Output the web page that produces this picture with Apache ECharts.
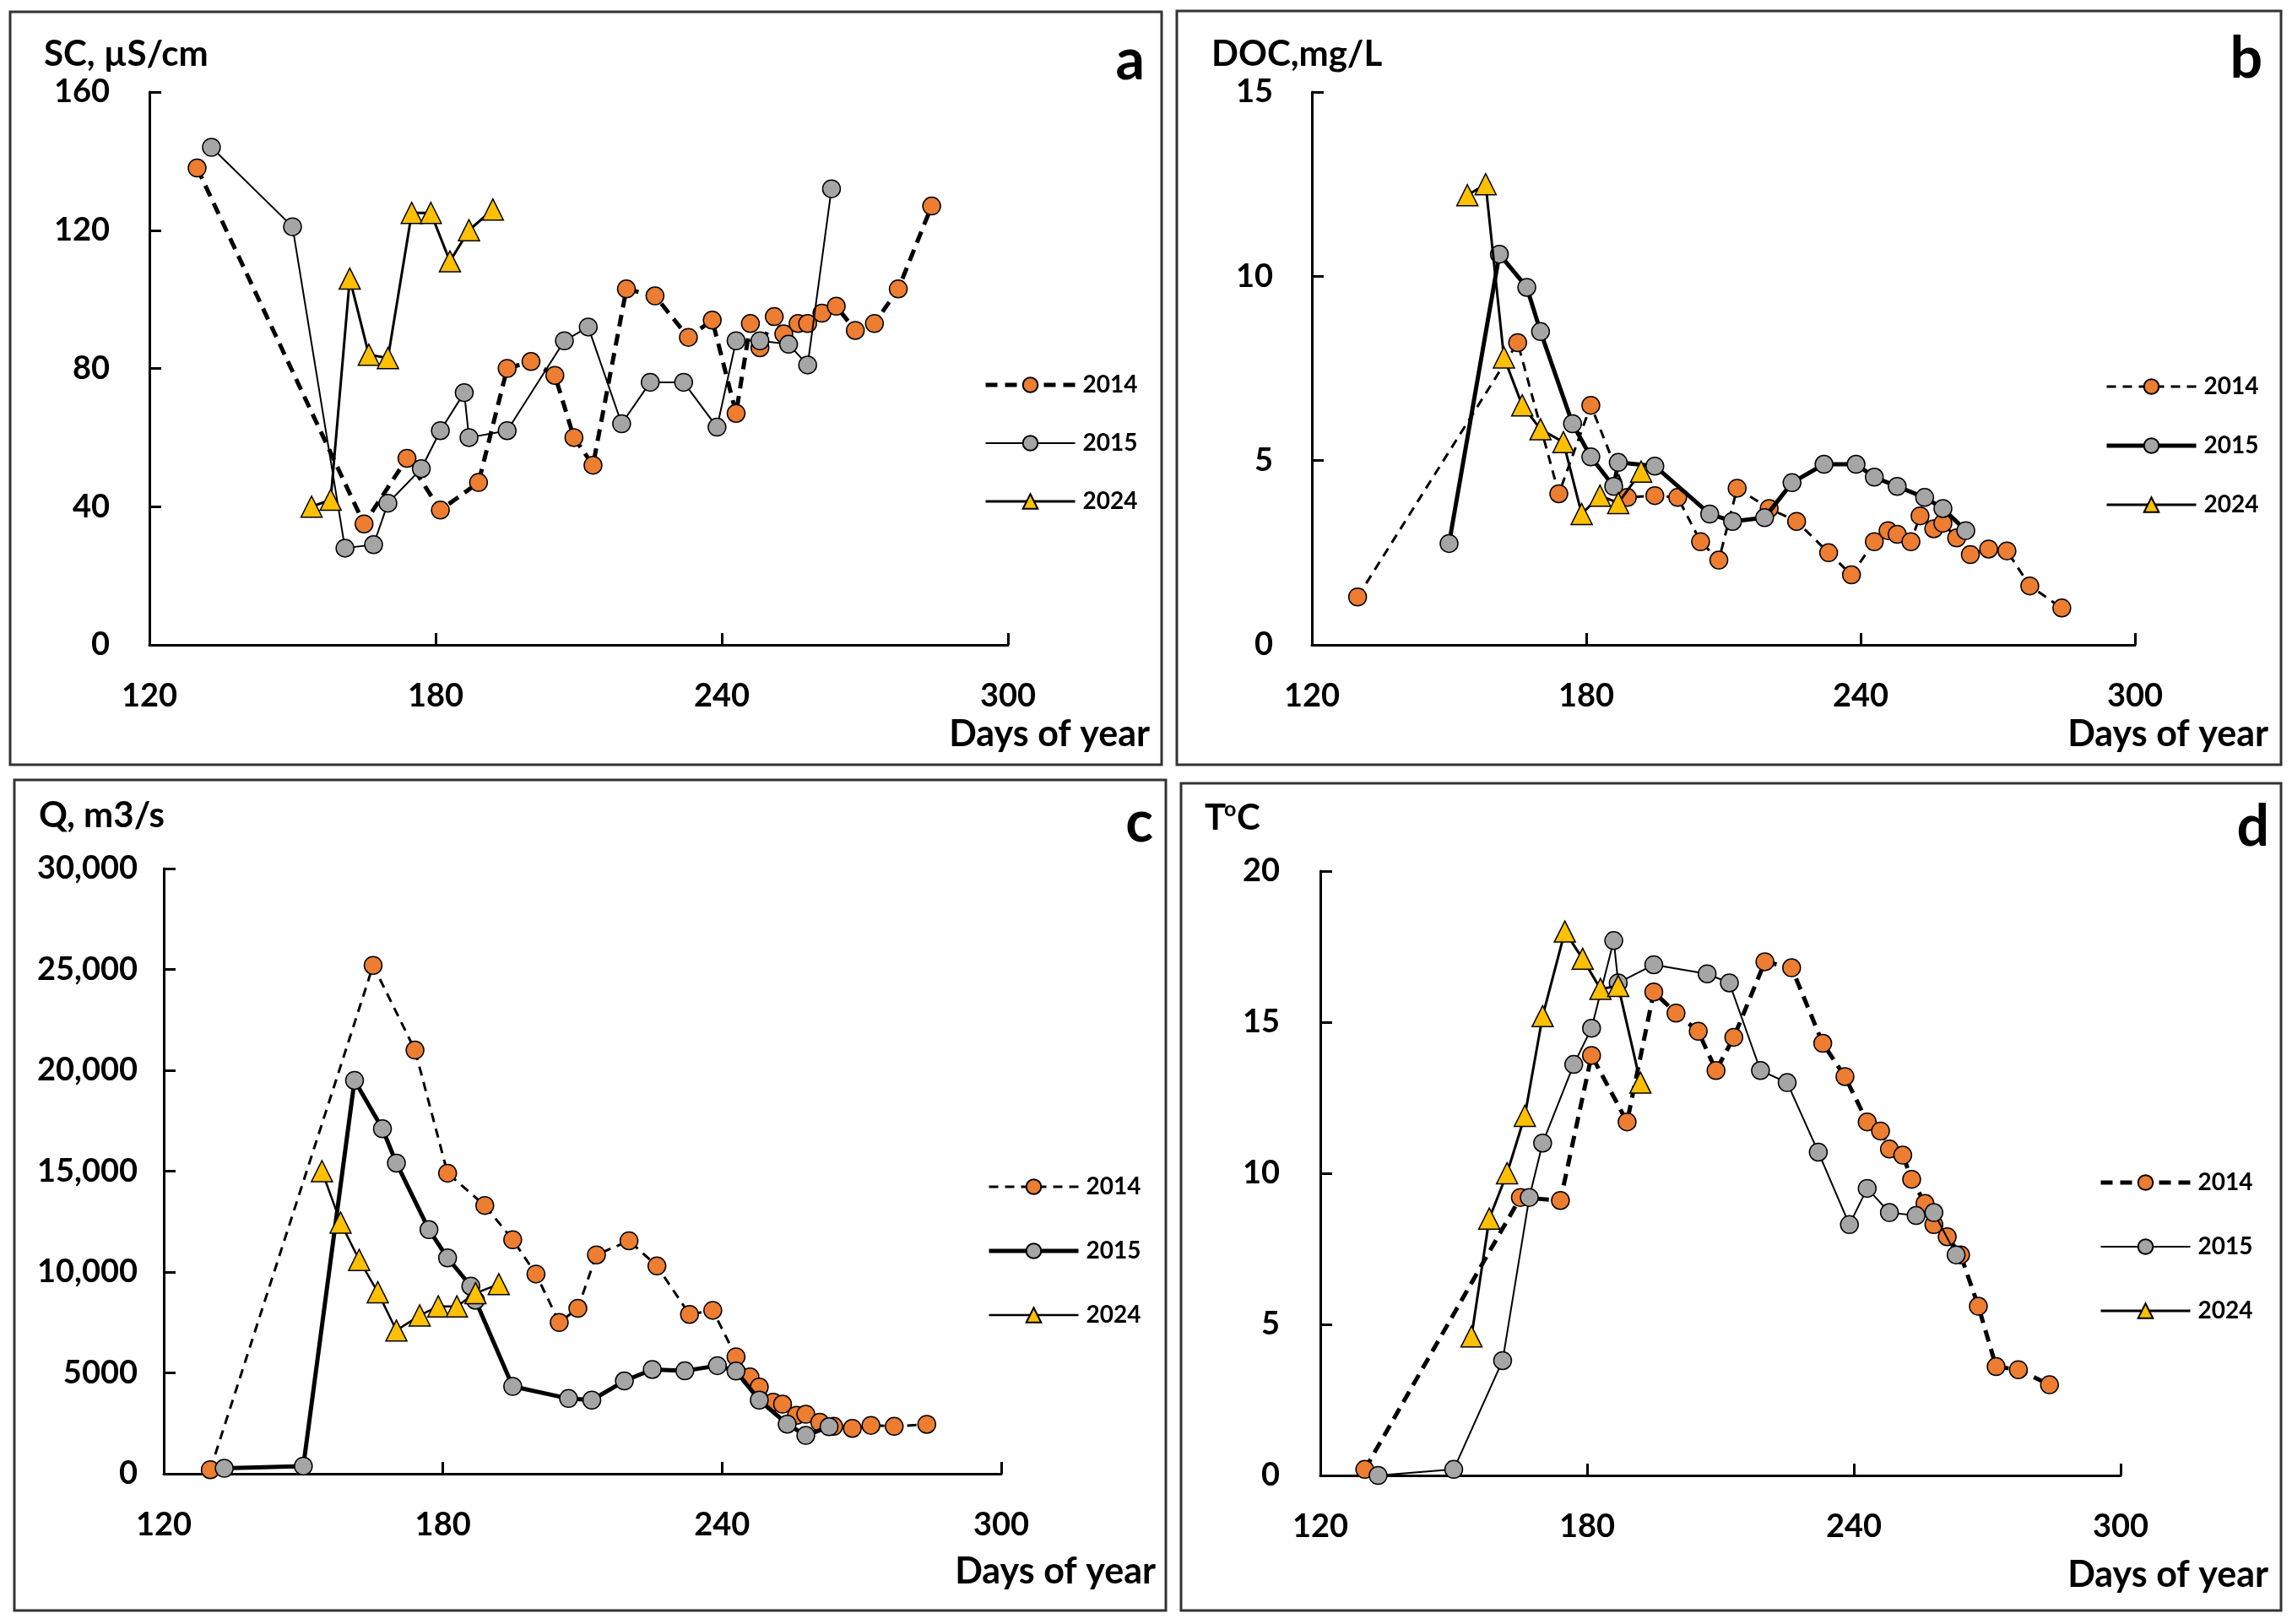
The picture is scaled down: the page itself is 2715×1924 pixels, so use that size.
<!doctype html>
<html>
<head>
<meta charset="utf-8">
<title>SC, DOC, Q, T vs days of year</title>
<script src="https://cdn.jsdelivr.net/npm/echarts@6/dist/echarts.min.js"></script>
<style>
  html, body { margin: 0; padding: 0; background: #fff; }
  #chart { width: 2715px; height: 1924px; }
</style>
</head>
<body>
<div id="chart"></div>
<script>
// sampling days (day of year)
var days14 = [130, 165, 174, 181, 189, 195, 200, 205, 209, 213, 220, 226, 233, 238, 243, 246, 248, 251, 253, 256, 258, 261, 264, 268, 272, 277, 284];
var days15 = [133, 150, 161, 167, 170, 177, 181, 186, 187, 195, 207, 212, 219, 225, 232, 239, 243, 248, 254, 258, 263];
var days24 = [154, 158, 162, 166, 170, 175, 179, 183, 187, 192];

// a - specific conductance, uS/cm
var sc14 = [138, 35, 54, 39, 47, 80, 82, 78, 60, 52, 103, 101, 89, 94, 67, 93, 86, 95, 90, 93, 93, 96, 98, 91, 93, 103, 127];
var sc15 = [144, 121, 28, 29, 41, 51, 62, 73, 60, 62, 88, 92, 64, 76, 76, 63, 88, 88, 87, 81, 132];
var sc24 = [40, 42, 106, 84, 83, 125, 125, 111, 120, 126];

// b - DOC, mg/L (no 2015 sample on the first day)
var doc14 = [1.3, 8.2, 4.1, 6.5, 4.0, 4.05, 4.0, 2.8, 2.3, 4.25, 3.7, 3.35, 2.5, 1.9, 2.8, 3.1, 3.0, 2.8, 3.5, 3.15, 3.3, 2.9, 2.45, 2.6, 2.55, 1.6, 1.0];
var doc15 = [null, 2.75, 10.6, 9.7, 8.5, 6.0, 5.1, 4.3, 4.95, 4.85, 3.55, 3.35, 3.45, 4.4, 4.9, 4.9, 4.55, 4.3, 4.0, 3.7, 3.1];
var doc24 = [12.2, 12.5, 7.8, 6.5, 5.85, 5.5, 3.55, 4.05, 3.85, 4.7];

// c - discharge, m3/s
var q14 = [200, 25200, 21000, 14900, 13300, 11600, 9900, 7500, 8200, 10850, 11550, 10300, 7900, 8100, 5800, 4800, 4300, 3550, 3450, 2900, 2950, 2550, 2350, 2250, 2400, 2350, 2450];
var q15 = [270, 380, 19500, 17100, 15400, 12100, 10700, 9300, 8600, 4330, 3730, 3650, 4600, 5170, 5100, 5360, 5090, 3650, 2460, 1900, 2330];
var q24 = [15000, 12450, 10600, 9000, 7100, 7850, 8300, 8300, 8950, 9400];

// d - water temperature, C
var t14 = [0.2, 9.2, 9.1, 13.9, 11.7, 16.0, 15.3, 14.7, 13.4, 14.5, 17.0, 16.8, 14.3, 13.2, 11.7, 11.4, 10.8, 10.6, 9.8, 9.0, 8.3, 7.9, 7.3, 5.6, 3.6, 3.5, 3.0];
var t15 = [0.0, 0.2, 3.8, 9.2, 11.0, 13.6, 14.8, 17.7, 16.3, 16.9, 16.6, 16.3, 13.4, 13.0, 10.7, 8.3, 9.5, 8.7, 8.6, 8.7, 7.3];
var t24 = [4.6, 8.5, 10.0, 11.9, 15.2, 18.0, 17.1, 16.1, 16.2, 13.0];

var years = ['2014', '2015', '2024'];

var FONT = 'Lato, "Liberation Sans", sans-serif';
var ORANGE = '#ED7D31', GRAY = '#A5A5A5', GOLD = '#FFC000';

// panel layout (pixels)
var panels = [
    { id: 'a', grid: { left: 177, top: 109, width: 1017, height: 655 }, yMax: 160, yInt: 40, yMargin: 47,
      box: [12, 14, 1364, 892], legend: { left: 1160, top: 437, gap: 41 },
      widths: [5, 2, 3], dash: [14, 9] },
    { id: 'b', grid: { left: 1554, top: 109, width: 975, height: 655 }, yMax: 15, yInt: 5, yMargin: 46,
      box: [1394, 13, 1308, 893], legend: { left: 2488, top: 439, gap: 42 },
      widths: [3, 5, 3], dash: [11, 8] },
    { id: 'c', grid: { left: 194, top: 1029, width: 992, height: 717 }, yMax: 30000, yInt: 5000, yMargin: 31,
      box: [17, 924, 1364, 984], legend: { left: 1164, top: 1387, gap: 48 },
      widths: [3, 5, 2.5], dash: [11, 8] },
    { id: 'd', grid: { left: 1564, top: 1032, width: 948, height: 716 }, yMax: 20, yInt: 5, yMargin: 48,
      box: [1399, 928, 1303, 980], legend: { left: 2481, top: 1382, gap: 48 },
      widths: [5, 2, 3], dash: [14, 9] }
];

var panelData = [
    [sc14, sc15, sc24],
    [doc14, doc15, doc24],
    [q14, q15, q24],
    [t14, t15, t24]
];
var dayLists = [days14, days15, days24];

function pairs(days, vals) {
    var out = [];
    for (var i = 0; i < days.length; i++) {
        if (vals[i] !== null) out.push([days[i], vals[i]]);
    }
    return out;
}

function qLabel(v) {
    if (v >= 10000) return String(v).replace(/(\d)(?=(\d{3})+$)/g, '$1,');
    return String(v);
}

var grids = [], xAxes = [], yAxes = [], series = [], legends = [], graphics = [];

panels.forEach(function (p, k) {
    grids.push(Object.assign({ containLabel: false }, p.grid));

    xAxes.push({
        type: 'value', gridIndex: k, min: 120, max: 300, interval: 60,
        axisLine: { show: true, onZero: false, lineStyle: { color: '#000', width: 3 } },
        axisTick: { show: true, inside: true, length: 14, lineStyle: { color: '#000', width: 3 } },
        splitLine: { show: false },
        axisLabel: { show: true, color: '#000', fontFamily: FONT, fontWeight: 'bold', fontSize: 38,
                     margin: 42, showMinLabel: true, showMaxLabel: true, hideOverlap: false }
    });

    yAxes.push({
        type: 'value', gridIndex: k, min: 0, max: p.yMax, interval: p.yInt,
        axisLine: { show: true, onZero: false, lineStyle: { color: '#000', width: 3 } },
        axisTick: { show: true, inside: true, length: 14, lineStyle: { color: '#000', width: 3 } },
        splitLine: { show: false },
        axisLabel: { show: true, color: '#000', fontFamily: FONT, fontWeight: 'bold', fontSize: 38,
                     margin: p.yMargin, showMinLabel: true, showMaxLabel: true, hideOverlap: false,
                     formatter: p.id === 'c' ? qLabel : null }
    });

    var legendData = [];
    years.forEach(function (yr, j) {
        var name = p.id + ':' + yr;
        var ls = { color: '#000', width: p.widths[j], type: j === 0 ? p.dash : 'solid' };
        var isTri = j === 2;
        series.push({
            name: name, type: 'line', xAxisIndex: k, yAxisIndex: k,
            data: pairs(dayLists[j], panelData[k][j]),
            symbol: isTri ? 'triangle' : 'circle',
            symbolSize: isTri ? 25 : 21,
            showAllSymbol: true,
            lineStyle: ls,
            itemStyle: { color: [ORANGE, GRAY, GOLD][j], borderColor: '#000', borderWidth: 1.5 },
            emphasis: { disabled: true },
            z: 2 + j,
            animation: false
        });
        legendData.push({ name: name, lineStyle: ls });
    });

    legends.push({
        orient: 'vertical', left: p.legend.left, top: p.legend.top,
        itemWidth: 106, itemHeight: 22, itemGap: p.legend.gap,
        selectedMode: false,
        data: legendData,
        formatter: function (n) { return n.split(':')[1]; },
        textStyle: { color: '#000', fontFamily: FONT, fontWeight: 'bold', fontSize: 28, padding: [0, 0, 0, 4] }
    });

    graphics.push({
        type: 'rect', silent: true,
        shape: { x: p.box[0], y: p.box[1], width: p.box[2], height: p.box[3] },
        style: { fill: 'none', stroke: '#333', lineWidth: 3 }
    });
});

function txt(str, x, y, size, align) {
    return {
        type: 'text', silent: true, x: x, y: y,
        style: { text: str, fill: '#000', font: 'bold ' + size + 'px ' + FONT,
                 textAlign: align, textVerticalAlign: 'middle', align: align, verticalAlign: 'middle' }
    };
}

// y-axis titles
graphics.push(txt('SC, \u00b5S/cm', 52, 64, 42, 'left'));
graphics.push(txt('DOC,mg/L', 1435, 64, 42, 'left'));
graphics.push(txt('Q, m3/s', 46, 966, 42, 'left'));
graphics.push(txt('T', 1427, 969, 42, 'left'));
graphics.push(txt('o', 1450, 959, 25, 'left'));
graphics.push(txt('C', 1465, 969, 42, 'left'));

// x-axis titles
graphics.push(txt('Days of year', 1362, 870, 43, 'right'));
graphics.push(txt('Days of year', 2687, 870, 43, 'right'));
graphics.push(txt('Days of year', 1369, 1862, 43, 'right'));
graphics.push(txt('Days of year', 2687, 1866, 43, 'right'));

// panel letters
graphics.push(txt('a', 1356, 72, 68, 'right'));
graphics.push(txt('b', 2680, 70, 68, 'right'));
graphics.push(txt('c', 1366, 975, 68, 'right'));
graphics.push(txt('d', 2688, 980, 68, 'right'));

var myChart = echarts.init(document.getElementById('chart'), null, { renderer: 'canvas' });
myChart.setOption({
    backgroundColor: '#fff',
    animation: false,
    tooltip: { show: false },
    grid: grids,
    xAxis: xAxes,
    yAxis: yAxes,
    legend: legends,
    series: series,
    graphic: graphics
});
</script>
</body>
</html>
